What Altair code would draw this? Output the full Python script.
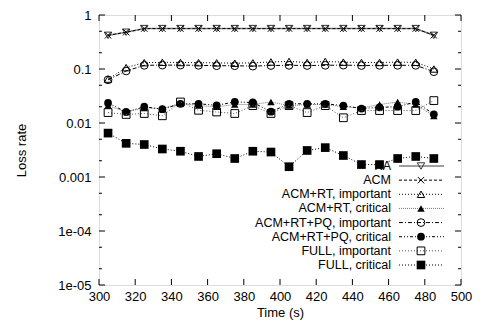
import altair as alt
import pandas as pd

# ---------------- data ----------------
times = [305, 315, 325, 335, 345, 355, 365, 375, 385, 395, 405, 415, 425, 435, 445, 455, 465, 475, 485]

ka = [0.42, 0.48, 0.56, 0.56, 0.56, 0.56, 0.56, 0.56, 0.56, 0.56, 0.56, 0.56, 0.56, 0.56, 0.56, 0.56, 0.56, 0.56, 0.42]
acm = [0.42, 0.48, 0.56, 0.56, 0.56, 0.56, 0.56, 0.56, 0.56, 0.56, 0.56, 0.56, 0.56, 0.56, 0.56, 0.56, 0.56, 0.56, 0.42]
acm_rt_imp = [0.065, 0.106, 0.131, 0.133, 0.132, 0.131, 0.130, 0.128, 0.130, 0.135, 0.138, 0.132, 0.138, 0.134, 0.132, 0.132, 0.134, 0.133, 0.100]
acm_rt_crit = [0.021, 0.016, 0.019, 0.0185, 0.023, 0.021, 0.020, 0.022, 0.022, 0.0245, 0.021, 0.022, 0.022, 0.020, 0.019, 0.022, 0.0245, 0.022, 0.0135]
acm_rt_pq_imp = [0.063, 0.092, 0.117, 0.118, 0.118, 0.117, 0.115, 0.115, 0.113, 0.116, 0.117, 0.116, 0.117, 0.118, 0.116, 0.117, 0.117, 0.117, 0.089]
acm_rt_pq_crit = [0.0235, 0.016, 0.020, 0.018, 0.0227, 0.0227, 0.0213, 0.0245, 0.024, 0.0162, 0.0227, 0.0227, 0.0227, 0.021, 0.0185, 0.0195, 0.020, 0.0245, 0.0145]
full_imp = [0.0156, 0.0144, 0.015, 0.0136, 0.0245, 0.0172, 0.016, 0.015, 0.021, 0.015, 0.021, 0.0156, 0.021, 0.0125, 0.017, 0.017, 0.017, 0.017, 0.026]
full_crit = [0.0065, 0.0042, 0.0040, 0.0033, 0.0030, 0.0024, 0.0027, 0.0022, 0.0030, 0.0029, 0.00155, 0.0031, 0.0035, 0.0025, 0.0017, 0.0017, 0.0022, 0.0024, 0.0022]

series_names = ["KA", "ACM", "ACM+RT, important", "ACM+RT, critical",
                "ACM+RT+PQ, important", "ACM+RT+PQ, critical",
                "FULL, important", "FULL, critical"]
series_values = [ka, acm, acm_rt_imp, acm_rt_crit, acm_rt_pq_imp, acm_rt_pq_crit, full_imp, full_crit]

x_ticks = [300, 320, 340, 360, 380, 400, 420, 440, 460, 480, 500]
y_ticks = [1e-5, 1e-4, 1e-3, 1e-2, 1e-1, 1]
y_minor = [2e-5, 5e-5, 2e-4, 5e-4, 2e-3, 5e-3, 2e-2, 5e-2, 0.2, 0.5]

# ---------------- styles ----------------
XPATH = "M-1,-1L1,1M-1,1L1,-1"
styles = {
    "KA": dict(shape="triangle-down", filled=False, size=55, lc="#808080", dash=[1, 0], lw=1.5, mc="#333333"),
    "ACM": dict(shape=XPATH, filled=False, size=40, lc="black", dash=[3, 2], lw=1, mc="black"),
    "ACM+RT, important": dict(shape="triangle-up", filled=False, size=55, lc="black", dash=[1, 2], lw=1, mc="black"),
    "ACM+RT, critical": dict(shape="triangle-up", filled=True, size=55, lc="#777777", dash=[1, 1], lw=1, mc="black"),
    "ACM+RT+PQ, important": dict(shape="circle", filled=False, size=60, lc="black", dash=[4, 2, 1, 2], lw=1, mc="black"),
    "ACM+RT+PQ, critical": dict(shape="circle", filled=True, size=60, lc="black", dash=[3, 2, 1, 2, 1, 2], lw=1, mc="black"),
    "FULL, important": dict(shape="square", filled=False, size=60, lc="#555555", dash=[1, 2], lw=1, mc="black"),
    "FULL, critical": dict(shape="square", filled=True, size=75, lc="black", dash=[1, 2], lw=1, mc="black"),
}

W, H = 362, 270
FONT = "Liberation Sans"
FS = 13
LFS = 12.5

xscale = alt.Scale(domain=[300, 500], nice=False, zero=False)
yscale = alt.Scale(type="log", domain=[1e-5, 1], nice=False)

xaxis = alt.Axis(values=x_ticks, ticks=False, domain=False, grid=False, labelOverlap=False,
                 labelFlush=False, labelPadding=5, title="Time (s)", titlePadding=3,
                 labelFontSize=FS, titleFontSize=FS, titleFontWeight="normal",
                 labelFont=FONT, titleFont=FONT, labelColor="black", titleColor="black")
yaxis = alt.Axis(values=y_ticks, ticks=False, domain=False, grid=False, labelOverlap=False,
                 labelFlush=False, labelPadding=8, title="Loss rate", titlePadding=29,
                 labelExpr="datum.value < 0.0005 ? replace(format(datum.value, '.0e'), 'e-', 'e-0') : format(datum.value, '~g')",
                 labelFontSize=FS, titleFontSize=FS, titleFontWeight="normal",
                 labelFont=FONT, titleFont=FONT, labelColor="black", titleColor="black")

xenc = alt.X("t:Q", scale=xscale, axis=xaxis)
yenc = alt.Y("v:Q", scale=yscale, axis=yaxis)

data_layers = []
for name, vals in zip(series_names, series_values):
    st = styles[name]
    df = pd.DataFrame({"t": times, "v": vals})
    base = alt.Chart(df)
    data_layers.append(base.mark_line(color=st["lc"], strokeDash=st["dash"], strokeWidth=st["lw"])
                       .encode(x=xenc, y=yenc))
    data_layers.append(base.mark_point(shape=st["shape"], filled=st["filled"], size=st["size"],
                                       color=st["mc"], strokeWidth=1, opacity=1)
                       .encode(x=xenc, y=yenc))

# tick marks (inward, mirrored)
xt_df = pd.DataFrame({"t": x_ticks})
yt_df = pd.DataFrame({"v": y_ticks})
ym_df = pd.DataFrame({"v": y_minor})
tick_layers = [
    alt.Chart(xt_df).mark_rule(color="black").encode(x=xenc, y=alt.value(H), y2=alt.value(H - 6)),
    alt.Chart(xt_df).mark_rule(color="black").encode(x=xenc, y=alt.value(0), y2=alt.value(6)),
    alt.Chart(yt_df).mark_rule(color="black").encode(y=yenc, x=alt.value(0), x2=alt.value(6)),
    alt.Chart(yt_df).mark_rule(color="black").encode(y=yenc, x=alt.value(W), x2=alt.value(W - 6)),
    alt.Chart(ym_df).mark_rule(color="black").encode(y=yenc, x=alt.value(0), x2=alt.value(3)),
    alt.Chart(ym_df).mark_rule(color="black").encode(y=yenc, x=alt.value(W), x2=alt.value(W - 3)),
]

main = alt.layer(*data_layers, *tick_layers)

# manual legend (label on left, sample on right)
leg_y = alt.Y("idx:Q", scale=alt.Scale(domain=[0, 7], range=[151, 250]), axis=None)
leg_layers = []
for i, name in enumerate(series_names):
    st = styles[name]
    ldf = pd.DataFrame({"name": [name], "idx": [i]})
    lb = alt.Chart(ldf)
    leg_layers.append(lb.mark_text(align="right", baseline="middle", font=FONT, fontSize=LFS, color="black")
                      .encode(x=alt.value(292), y=leg_y, text="name:N"))
    leg_layers.append(lb.mark_rule(color=st["lc"], strokeDash=st["dash"], strokeWidth=st["lw"])
                      .encode(x=alt.value(300), x2=alt.value(345), y=leg_y))
    leg_layers.append(lb.mark_point(shape=st["shape"], filled=st["filled"], size=st["size"],
                                    color=st["mc"], strokeWidth=1, opacity=1)
                      .encode(x=alt.value(322), y=leg_y))

legend = alt.layer(*leg_layers)

chart = alt.layer(main, legend).resolve_scale(y="independent").properties(
    width=W, height=H,
    autosize=alt.AutoSizeParams(type="none"),
    padding={"left": 91, "top": 7, "right": 14, "bottom": 36},
).configure_view(stroke="black", strokeWidth=1).configure_axis(labelOverlap=False, labelFlush=False).configure(background="white")

chart.save("out.html", embed_options={"renderer": "svg", "actions": False})
